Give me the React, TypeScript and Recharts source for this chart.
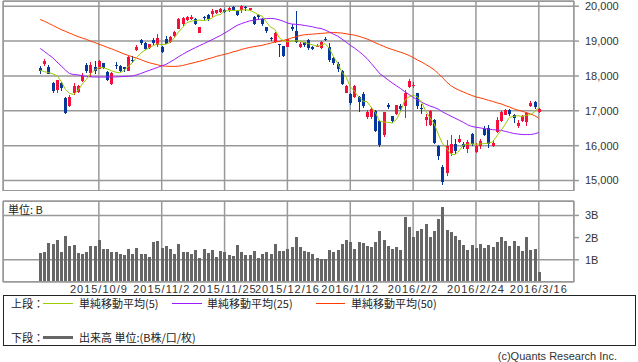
import React from 'react';
import { ComposedChart, Bar, Line, XAxis, YAxis, CartesianGrid } from 'recharts';

// trading days shown (6 months)
const dates = [
  '2015/9/16','2015/9/17','2015/9/18','2015/9/24','2015/9/25','2015/9/28','2015/9/29','2015/9/30','2015/10/1','2015/10/2','2015/10/5','2015/10/6','2015/10/7','2015/10/8','2015/10/9',
  '2015/10/13','2015/10/14','2015/10/15','2015/10/16','2015/10/19','2015/10/20','2015/10/21','2015/10/22','2015/10/23','2015/10/26','2015/10/27','2015/10/28','2015/10/29','2015/10/30','2015/11/2',
  '2015/11/4','2015/11/5','2015/11/6','2015/11/9','2015/11/10','2015/11/11','2015/11/12','2015/11/13','2015/11/16','2015/11/17','2015/11/18','2015/11/19','2015/11/20','2015/11/24','2015/11/25',
  '2015/11/26','2015/11/27','2015/11/30','2015/12/1','2015/12/2','2015/12/3','2015/12/4','2015/12/7','2015/12/8','2015/12/9','2015/12/10','2015/12/11','2015/12/14','2015/12/15','2015/12/16',
  '2015/12/17','2015/12/18','2015/12/21','2015/12/22','2015/12/24','2015/12/25','2015/12/28','2015/12/29','2015/12/30','2016/1/4','2016/1/5','2016/1/6','2016/1/7','2016/1/8','2016/1/12',
  '2016/1/13','2016/1/14','2016/1/15','2016/1/18','2016/1/19','2016/1/20','2016/1/21','2016/1/22','2016/1/25','2016/1/26','2016/1/27','2016/1/28','2016/1/29','2016/2/1','2016/2/2',
  '2016/2/3','2016/2/4','2016/2/5','2016/2/8','2016/2/9','2016/2/10','2016/2/12','2016/2/15','2016/2/16','2016/2/17','2016/2/18','2016/2/19','2016/2/22','2016/2/23','2016/2/24',
  '2016/2/25','2016/2/26','2016/2/29','2016/3/1','2016/3/2','2016/3/3','2016/3/4','2016/3/7','2016/3/8','2016/3/9','2016/3/10','2016/3/11','2016/3/14','2016/3/15','2016/3/16',
];

const opens = [
  18230,18330,18260,17800,17600,17800,17380,17150,17500,17530,
  17860,18320,18080,18260,18210,18360,18110,17760,18310,18280,
  18250,18150,18470,18740,19045,18950,18800,19045,18880,18830,
  19050,18980,19140,19360,19480,19600,19640,19620,19235,19700,
  19760,19790,19810,19840,19900,19880,19990,19860,19880,19990,
  19900,19700,19740,19640,19400,19100,18980,18910,18850,18840,
  19400,19300,18820,18960,19040,18830,18830,18790,19060,18818,
  18510,18330,18140,17520,17470,17400,17400,17490,16810,16810,
  17000,16700,16300,17160,16840,16920,17150,17130,17670,17700,
  17510,17090,16750,16600,16730,15980,15400,15230,15800,16050,
  16110,16060,15900,16340,15830,15990,16480,16520,15985,16400,
  16700,16880,17016,16870,16560,16700,16680,17150,17250,16960,
];
const highs = [
  18290,18480,18300,17830,17890,17830,17390,17450,17800,17740,
  18080,18380,18400,18420,18450,18380,18130,18100,18390,18300,
  18260,18560,18560,18880,19060,18960,18920,19090,19200,18850,
  19140,19160,19290,19650,19700,19710,19750,19650,19400,19720,
  19790,19930,19900,19950,19930,19990,20000,19880,20030,20010,
  19960,19720,19790,19660,19410,19120,19260,18930,18860,19060,
  19500,19869,18960,18980,19060,18850,18910,19000,19113,18951,
  18540,18400,18170,17750,17500,17750,17420,17550,17030,17100,
  17020,16750,16970,17210,16850,17180,17200,17600,17900,17830,
  17520,17200,16920,17020,16760,16020,15440,16150,16300,16200,
  16300,16100,16150,16360,16080,16200,16560,16600,16150,16830,
  16990,17040,17050,16900,16750,16880,16980,17290,17290,17090,
];
const lows = [
  18060,18270,18040,17520,17520,17570,16900,17120,17470,17500,
  17830,18090,17980,18040,18200,18220,17850,17740,18200,18110,
  18130,18140,18350,18720,18900,18720,18780,18900,18835,18640,
  18900,18950,19120,19340,19420,19580,19600,19450,19220,19590,
  19600,19700,19780,19800,19820,19860,19860,19720,19800,19880,
  19860,19450,19650,19440,19250,19000,18950,18570,18540,18820,
  19310,18950,18800,18830,18750,18740,18810,18770,18990,18394,
  18300,18100,17730,17510,17150,17380,16960,17100,16780,16750,
  16390,15980,16250,17040,16650,16900,16990,16800,17640,17650,
  17060,16920,16590,16560,16040,15600,14865,15110,15700,15780,
  16060,15900,15770,16000,15800,15900,16280,15950,15960,16370,
  16680,16860,16850,16640,16520,16680,16590,17130,17060,16940,
];
const closes = [
  18150,18430,18070,17570,17880,17645,16930,17390,17720,17725,
  18005,18150,18320,18140,18430,18235,17890,18095,18290,18130,
  18205,18550,18435,18825,18947,18777,18903,18935,19083,18683,
  18927,19116,19265,19642,19671,19691,19698,19500,19393,19649,
  19648,19859,19880,19925,19847,19944,19884,19747,20012,19938,
  19940,19504,19698,19492,19301,19046,19230,18883,18566,19050,
  19353,18987,18916,18887,18790,18769,18873,18982,19034,18451,
  18374,18191,17767,17698,17219,17716,17241,17147,16956,17048,
  16416,16017,16958,17111,16709,17164,17041,17518,17865,17751,
  17150,17045,16820,17004,16085,15713,14952,16000,16054,15850,
  16197,15967,16111,16052,15990,16140,16300,16040,16086,16747,
  16960,17015,16911,16783,16642,16852,16939,17234,17117,17060,
];

// volume, billions of shares
const volumes = [
  1.30,1.35,1.75,1.71,1.89,1.35,2.07,1.62,1.66,1.30,
  1.26,1.35,1.62,1.62,1.89,1.48,1.48,1.35,1.35,1.26,
  1.21,1.48,1.26,1.53,1.26,1.26,1.12,1.80,1.84,1.53,
  1.62,1.48,1.26,1.71,1.33,1.33,1.26,1.44,1.08,1.48,
  1.30,1.44,1.12,1.39,1.35,1.21,1.17,1.66,1.35,1.21,
  1.21,1.39,1.08,1.26,1.35,1.26,1.71,1.39,1.39,1.48,
  1.57,2.02,1.57,1.39,1.35,1.26,1.08,1.03,1.03,1.44,
  1.35,1.44,1.71,1.89,1.80,1.48,1.80,1.75,1.62,1.57,
  1.80,2.29,1.89,1.62,1.48,1.57,1.44,2.92,2.47,2.02,
  2.29,2.38,2.61,2.02,2.29,2.83,3.37,2.34,2.25,2.07,
  1.89,1.66,1.44,1.66,1.53,1.71,1.53,1.66,1.57,1.80,
  2.02,1.84,1.62,1.84,1.62,1.39,2.02,1.44,1.48,0.44,
];

const ma5 = [
  18164,18120,18100,18060,18010,17850,17620,17500,17470,17580,
  17760,17900,18060,18170,18240,18240,18200,18150,18110,18090,
  18160,18270,18380,18530,18650,18740,18810,18870,18920,18900,
  18910,18960,19090,19260,19390,19530,19570,19590,19600,19590,
  19610,19660,19740,19760,19860,19880,19880,19870,19890,19900,
  19880,19830,19760,19710,19540,19400,19340,19100,19010,18980,
  19000,19010,19000,18960,18930,18890,18860,18870,18930,18790,
  18560,18360,18110,17970,17690,17560,17400,17280,17260,17100,
  16950,16700,16680,16670,16650,16750,16980,17300,17400,17450,
  17400,17250,17000,16800,16640,16330,16060,15930,15760,15740,
  15860,16020,16040,16050,16040,16050,16060,16070,16110,16280,
  16440,16620,16810,16840,16860,16840,16870,16890,16970,17100,
];
const ma25 = [
  18790,18700,18610,18520,18400,18290,18170,18070,18040,18030,
  18010,17990,17975,17970,17970,17968,17968,17970,17972,17978,
  17985,17992,18000,18030,18070,18115,18160,18200,18245,18290,
  18330,18400,18470,18550,18620,18690,18750,18810,18870,18925,
  18980,19040,19100,19160,19230,19300,19380,19450,19500,19540,
  19580,19600,19620,19635,19645,19650,19640,19610,19570,19520,
  19490,19480,19470,19450,19430,19410,19380,19360,19320,19260,
  19200,19140,19060,18970,18880,18800,18710,18610,18500,18360,
  18220,18070,17980,17890,17800,17720,17640,17550,17470,17390,
  17310,17250,17190,17140,17100,17050,16970,16910,16850,16790,
  16730,16670,16600,16550,16530,16510,16490,16475,16460,16450,
  16440,16410,16380,16350,16335,16320,16318,16320,16340,16375,
];
const ma50 = [
  19620,19570,19510,19450,19390,19330,19280,19230,19180,19130,
  19090,19050,19000,18960,18910,18870,18820,18780,18730,18680,
  18630,18590,18550,18510,18470,18420,18380,18350,18320,18290,
  18280,18275,18275,18280,18300,18330,18360,18390,18420,18450,
  18490,18520,18560,18590,18620,18650,18690,18720,18760,18790,
  18820,18840,18860,18880,18910,18940,18970,18990,19020,19050,
  19090,19120,19160,19180,19190,19200,19210,19220,19230,19240,
  19245,19240,19230,19210,19190,19170,19140,19100,19060,19010,
  18950,18900,18850,18800,18760,18720,18680,18640,18590,18530,
  18460,18400,18330,18260,18180,18070,17950,17830,17720,17650,
  17590,17540,17490,17440,17400,17370,17340,17300,17270,17230,
  17200,17150,17110,17060,17020,16990,16950,16910,16860,16790,
];

const tickDates = ['2015/10/9','2015/11/2','2015/11/25','2015/12/16','2016/1/12','2016/2/2','2016/2/24','2016/3/16'];
const priceTicks = [15000, 16000, 17000, 18000, 19000, 20000];
const volTicks = [1, 2, 3];

const RED = '#f5103c';
const BLUE = '#06389c';
const GRID = '#999999';
const X_DOMAIN = [-8.88, 127.4];

const data = dates.map((d, i) => ({
  i, date: d,
  o: opens[i], h: highs[i], l: lows[i], c: closes[i],
  v: volumes[i], ma5: ma5[i], ma25: ma25[i], ma50: ma50[i],
}));
const tickIdx = tickDates.map(t => dates.indexOf(t));

const Candle = (props: any) => {
  const { x, y, width, height, payload } = props;
  if (x == null || payload == null) return null;
  const { o, h, l, c } = payload;
  const cx = Math.round(x + width / 2);
  const top = Math.min(y, y + height);
  const span = Math.abs(height);
  const ppu = h > l ? span / (h - l) : 0;
  const yOf = (val: number) => top + (h - val) * ppu;
  const color = c >= o ? RED : BLUE;
  const bt = Math.round(yOf(Math.max(o, c)));
  const bb = Math.round(yOf(Math.min(o, c)));
  return (
    <g shapeRendering="crispEdges">
      <rect x={cx} y={Math.round(top)} width={1} height={Math.max(1, Math.round(span))} fill={color} />
      <rect x={cx - 1} y={bt} width={3} height={Math.max(1, bb - bt)} fill={color} />
    </g>
  );
};

const VolBar = (props: any) => {
  const { x, y, width, height } = props;
  if (x == null) return null;
  const cx = Math.round(x + width / 2);
  return <rect x={cx - 1} y={Math.round(y)} width={3} height={Math.max(0, Math.round(y + height) - Math.round(y))} fill="#666" shapeRendering="crispEdges" />;
};

const DateTick = (props: any) => {
  const { x, y, payload } = props;
  return (
    <text x={x} y={y} dy={10.5} textAnchor="middle" fontSize={11} fill="#333"
      fontFamily="'Liberation Sans', Arial, sans-serif" letterSpacing={1}>
      {dates[payload.value]}
    </text>
  );
};

const tickStyle = { fontSize: 11, fill: '#333', fontFamily: "'Liberation Sans', Arial, sans-serif" };
const jp = "'Noto Sans CJK JP', 'Noto Sans', sans-serif";

const abs = (left: number, top: number, extra: any = {}) =>
  ({ position: 'absolute', left, top, ...extra } as React.CSSProperties);

export default function App() {
  return (
    <div style={{ position: 'absolute', left: 0, top: 0, width: 638, height: 362, background: '#fff', overflow: 'hidden' }}>
      <div style={abs(0, 0)}>
        <ComposedChart width={638} height={191} data={data} margin={{ top: 1, right: 0, bottom: 0, left: 3 }}>
          <CartesianGrid stroke={GRID} strokeWidth={1.5} />
          <XAxis type="number" dataKey="i" domain={X_DOMAIN} ticks={tickIdx} allowDataOverflow hide />
          <YAxis orientation="right" width={64} domain={[14700, 20150]} ticks={priceTicks} allowDataOverflow
            axisLine={false} tickSize={5} tickMargin={6} tickLine={{ stroke: GRID, strokeWidth: 1.5 }}
            tick={tickStyle} tickFormatter={(v: number) => v.toLocaleString('en-US')} />
          <Bar dataKey={(d: any) => [d.l, d.h]} barSize={4} shape={<Candle />} isAnimationActive={false} />
          <Line dataKey="ma50" stroke="#ff3c00" strokeWidth={1} dot={false} isAnimationActive={false} />
          <Line dataKey="ma25" stroke="#9d1cff" strokeWidth={1} dot={false} isAnimationActive={false} />
          <Line dataKey="ma5" stroke="#9ccc00" strokeWidth={1} dot={false} isAnimationActive={false} />
        </ComposedChart>
      </div>
      <div style={abs(3, 1, { width: 571, height: 190, boxSizing: 'border-box', border: `1.5px solid ${GRID}` })} />

      <div style={abs(0, 200)}>
        <ComposedChart width={638} height={100} data={data} margin={{ top: 1, right: 0, bottom: 0, left: 3 }}>
          <CartesianGrid stroke={GRID} strokeWidth={1.5} />
          <XAxis type="number" dataKey="i" domain={X_DOMAIN} ticks={tickIdx} allowDataOverflow height={18}
            axisLine={false} tickLine={false} tickSize={0} tickMargin={0} tick={<DateTick />} interval={0} />
          <YAxis orientation="right" width={64} domain={[0, 3.65]} ticks={volTicks} allowDataOverflow
            axisLine={false} tickSize={5} tickMargin={6} tickLine={{ stroke: GRID, strokeWidth: 1.5 }}
            tick={tickStyle} tickFormatter={(v: number) => `${v}B`} />
          <Bar dataKey="v" barSize={4} shape={<VolBar />} isAnimationActive={false} />
        </ComposedChart>
      </div>
      <div style={abs(3, 201, { width: 571, height: 81, boxSizing: 'border-box', border: `1.5px solid ${GRID}` })} />
      <div style={abs(8, 202, { fontSize: 11, lineHeight: '14px', color: '#222', fontFamily: jp })}>単位: B</div>

      <div style={abs(3, 295, { width: 633, height: 51, boxSizing: 'border-box', border: '1px solid #222' })} />
      <div style={abs(11, 296, { fontSize: 11, lineHeight: '14px', color: '#222', fontFamily: jp })}>上段：</div>
      <div style={abs(43, 303, { width: 30, height: 1, background: '#9ccc00' })} />
      <div style={abs(79, 296, { fontSize: 11, lineHeight: '14px', color: '#222', fontFamily: jp })}>単純移動平均(5)</div>
      <div style={abs(172, 303, { width: 30, height: 1, background: '#9d1cff' })} />
      <div style={abs(207, 296, { fontSize: 11, lineHeight: '14px', color: '#222', fontFamily: jp })}>単純移動平均(25)</div>
      <div style={abs(316, 303, { width: 29, height: 1, background: '#ff3c00' })} />
      <div style={abs(351, 296, { fontSize: 11, lineHeight: '14px', color: '#222', fontFamily: jp })}>単純移動平均(50)</div>
      <div style={abs(11, 330, { fontSize: 11, lineHeight: '14px', color: '#222', fontFamily: jp })}>下段：</div>
      <div style={abs(43, 336, { width: 30, height: 3, background: '#666' })} />
      <div style={abs(79, 330, { fontSize: 11, lineHeight: '14px', color: '#222', fontFamily: jp })}>出来高 単位:(B株/口/枚)</div>

      <div style={abs(0, 349, { width: 617, textAlign: 'right', fontSize: 11, lineHeight: '14px', color: '#333', fontFamily: "'Liberation Sans', Arial, sans-serif" })}>
        (c)Quants Research Inc.
      </div>
    </div>
  );
}
